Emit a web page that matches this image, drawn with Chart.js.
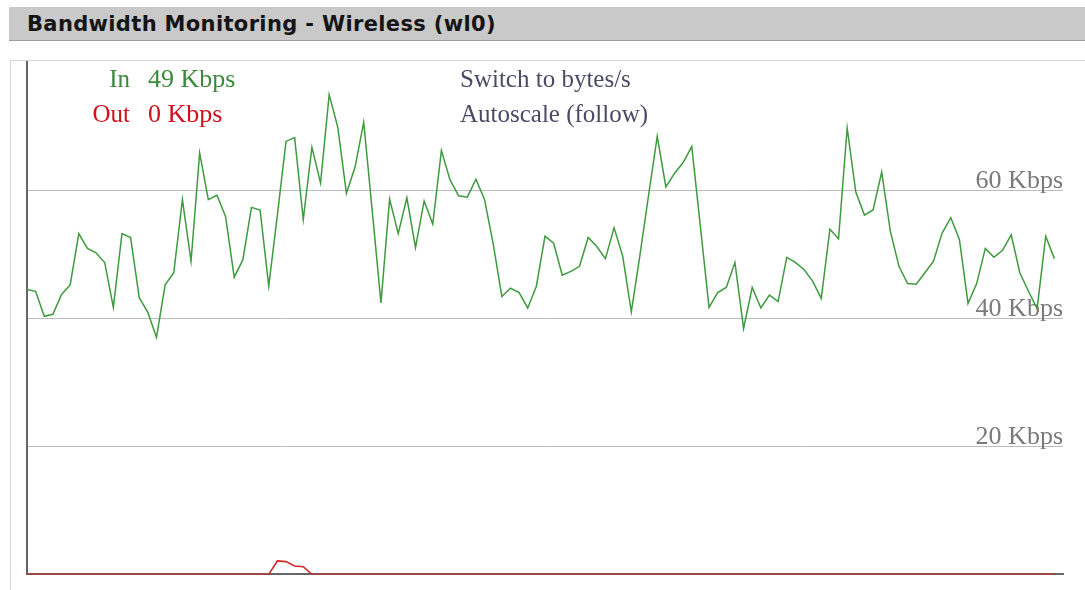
<!DOCTYPE html>
<html>
<head>
<meta charset="utf-8">
<script src="https://cdn.jsdelivr.net/npm/chart.js@4.4.1/dist/chart.umd.min.js"></script>
<style>
  html, body { margin:0; padding:0; background:#fff; width:1085px; height:590px; overflow:hidden; }
  #hdr { position:absolute; left:9px; top:7px; width:1076px; height:34px; box-sizing:border-box;
         background:#c9c9c9; border-bottom:1px solid #9c9c9c; padding-left:18px;
         font: bold 21px "DejaVu Sans", sans-serif; letter-spacing:0.35px; color:#141414; line-height:34px; white-space:nowrap; }
  #box { position:absolute; left:10px; top:60px; width:1090px; height:560px; border:1px solid #d6d6d6; }
  #c { position:absolute; left:0; top:0; }
</style>
</head>
<body>
<div id="hdr">Bandwidth Monitoring - Wireless (wl0)</div>
<div id="box"></div>
<canvas id="c" width="1085" height="590"></canvas>
<script>
// ---- data ----
const inKbps = [
  44.5,44.2,40.3,40.6,43.7,45.2,53.2,50.9,50.2,48.7,
  41.7,53.2,52.6,43.2,40.9,37.0,45.2,47.1,58.5,48.9,
  65.8,58.5,59.2,55.9,46.4,49.1,57.3,56.9,45.0,56.1,
  67.6,68.2,55.4,66.7,61.1,74.9,69.8,59.5,63.6,70.6,
  56.6,42.4,58.6,53.2,58.8,51.0,58.3,54.7,66.2,61.6,
  59.1,58.9,61.7,58.5,51.6,43.4,44.7,44.0,41.6,45.0,
  52.8,51.7,46.7,47.3,48.1,52.6,51.2,49.3,54.1,49.7,
  41.0,49.9,59.2,68.4,60.5,62.6,64.3,66.8,54.3,41.7,
  44.0,44.8,48.7,38.4,44.8,41.6,43.6,42.6,49.5,48.7,
  47.6,45.8,43.1,53.9,52.4,69.7,59.7,56.1,56.9,62.8,
  53.6,48.1,45.4,45.3,47.1,48.9,53.3,55.7,52.3,42.3,
  45.4,50.9,49.5,50.6,53.0,47.1,44.2,41.5,52.8,49.3
];
const outKbps = [
  0,0,0,0,0,0,0,0,0,0,
  0,0,0,0,0,0,0,0,0,0,
  0,0,0,0,0,0,0,0,0,2.1,
  2.0,1.3,1.2,0,0,0,0,0,0,0,
  0,0,0,0,0,0,0,0,0,0,
  0,0,0,0,0,0,0,0,0,0,
  0,0,0,0,0,0,0,0,0,0,
  0,0,0,0,0,0,0,0,0,0,
  0,0,0,0,0,0,0,0,0,0,
  0,0,0,0,0,0,0,0,0,0,
  0,0,0,0,0,0,0,0,0,0,
  0,0,0,0,0,0,0,0,0,0
];
const sampleIdx = inKbps.map((_, i) => i);
const yTickValues = [20, 40, 60];
const yTickLabels = ['20 Kbps', '40 Kbps', '60 Kbps'];
const legendNames = ['In', 'Out'];
const legendValues = ['49 Kbps', '0 Kbps'];
const linkTexts = ['Switch to bytes/s', 'Autoscale (follow)'];

const SERIF = '"Liberation Serif", "Times New Roman", serif';

const overlayText = {
  id: 'overlayText',
  afterDraw(chart) {
    const ctx = chart.ctx;
    ctx.save();
    ctx.textBaseline = 'alphabetic';
    const cols = ['#3b8a3b', '#d0101c'];
    const baselines = [87, 122];
    for (let i = 0; i < 2; i++) {
      ctx.fillStyle = cols[i];
      ctx.font = '25px ' + SERIF;
      ctx.textAlign = 'right';
      ctx.fillText(legendNames[i], 130, baselines[i]);
      ctx.font = '26px ' + SERIF;
      ctx.textAlign = 'left';
      ctx.fillText(legendValues[i], 148, baselines[i]);
    }
    ctx.font = '25px ' + SERIF;
    ctx.fillStyle = '#4a4a66';
    ctx.textAlign = 'left';
    ctx.fillText(linkTexts[0], 460, 87);
    ctx.fillText(linkTexts[1], 460, 122);
    ctx.restore();
  }
};

const chart = new Chart(document.getElementById('c'), {
  type: 'line',
  data: {
    labels: sampleIdx,
    datasets: [
      { label: 'Out', data: outKbps, borderColor: '#d42a2a', borderWidth: 1.6, pointRadius: 0, tension: 0, fill: false },
      { label: 'In', data: inKbps, borderColor: '#3e9a3e', borderWidth: 1.5, pointRadius: 0, tension: 0, fill: false }
    ]
  },
  options: {
    responsive: false,
    animation: false,
    devicePixelRatio: 1,
    layout: { padding: { left: 27, top: 62, right: 22, bottom: 13 } },
    plugins: { legend: { display: false }, tooltip: { enabled: false } },
    scales: {
      x: {
        type: 'linear', min: 0, max: 120,
        grid: { display: false, drawTicks: false },
        ticks: { display: false },
        border: { display: true, color: '#666', width: 2 }
      },
      y: {
        min: 0, max: 80,
        ticks: { display: false, stepSize: 20 },
        grid: {
          drawTicks: false,
          color: c => yTickValues.includes(c.tick.value) ? '#bdbdbd' : 'rgba(0,0,0,0)',
          lineWidth: 1
        },
        border: { display: true, color: '#666', width: 2 }
      },
      y2: {
        position: 'right', min: 0, max: 80,
        grid: { display: false, drawTicks: false },
        border: { display: false },
        afterBuildTicks: s => { s.ticks = yTickValues.map(v => ({ value: v })); },
        ticks: {
          mirror: true, padding: 0, labelOffset: -9,
          color: '#7a7a7a',
          font: { family: SERIF, size: 26 },
          callback: v => yTickLabels[yTickValues.indexOf(v)]
        }
      }
    }
  },
  plugins: [overlayText]
});
</script>
</body>
</html>
